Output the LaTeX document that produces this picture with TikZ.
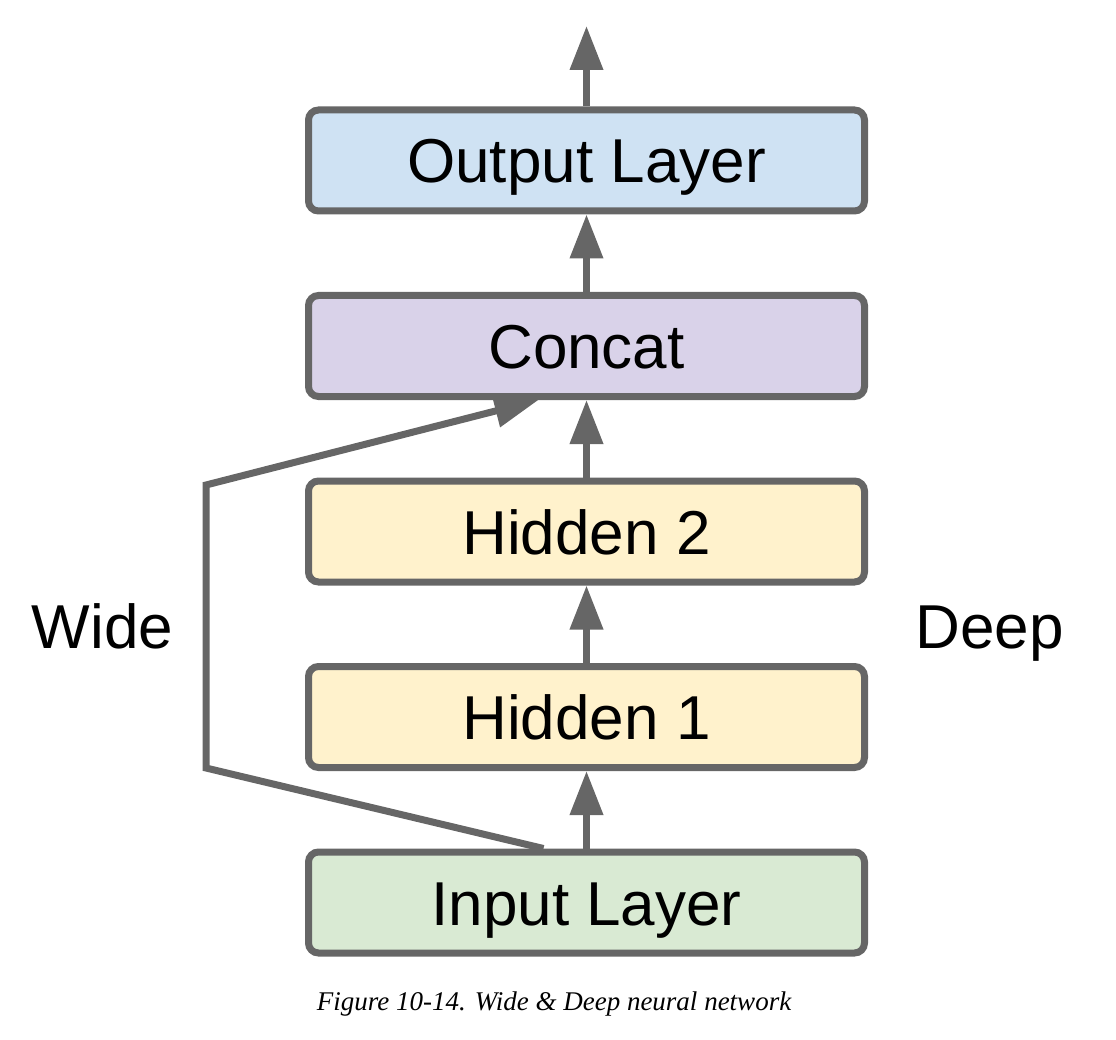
\documentclass[tikz,border=0pt]{standalone}
\usepackage{fontspec}
\setmainfont{Liberation Sans}
\newfontfamily\captionfont{Liberation Serif}
\usepackage{xcolor}
\usetikzlibrary{positioning,arrows.meta}

\definecolor{edgegray}{HTML}{666666}
\definecolor{outblue}{HTML}{CFE2F3}
\definecolor{concatpurple}{HTML}{D9D2E9}
\definecolor{hiddenyellow}{HTML}{FFF2CC}
\definecolor{inputgreen}{HTML}{D9EAD3}

\begin{document}
\begin{tikzpicture}[x=1pt, y=-1pt, node distance=77.5pt,
        layer/.style={draw=edgegray, line width=7pt, rounded corners=10pt, minimum width=556pt, minimum height=101pt,
            font=\fontsize{62}{70}\selectfont, text height=45pt, text depth=0pt},
        side/.style={font=\fontsize{62}{70}\selectfont, text height=45pt, text depth=0pt, inner sep=0pt},
        link/.style={draw=edgegray, line width=7pt, -{Triangle[length=44pt, width=32pt]}}]
                \useasboundingbox (0,0) rectangle (1116,1040);

                \node[layer, fill=inputgreen] (input) at (586.5,902.5) {Input Layer};
                \node[layer, fill=hiddenyellow, above=of input] (hidden1) {Hidden 1};
                \node[layer, fill=hiddenyellow, above=of hidden1] (hidden2) {Hidden 2};
                \node[layer, fill=concatpurple, above=of hidden2] (concat) {Concat};
                \node[layer, fill=outblue, above=of concat] (output) {Output Layer};

                \node[side] (wide) at (102.5,625.5) {Wide};
                \node[side] (deep) at (989.5,625.5) {Deep};

                \node[font=\captionfont\itshape\fontsize{27}{30}\selectfont, anchor=base, inner sep=0pt] (caption) at (554,1010)
                    {Figure 10-14. Wide \& Deep neural network};

                \coordinate (top) at (586.5,26);
                \coordinate (wideLow) at (206,768);
                \coordinate (wideUp) at (206,485);

                \draw[link] (input) -- (hidden1);
                \draw[link] (hidden1) -- (hidden2);
                \draw[link] (hidden2) -- (concat);
                \draw[link] (concat) -- (output);
                \draw[link] (output) -- (top);
                \draw[link] ([xshift=-43pt]input.north) -- (wideLow) -- (wideUp) -- ([xshift=-48pt]concat.south);
            \end{tikzpicture}
\end{document}
